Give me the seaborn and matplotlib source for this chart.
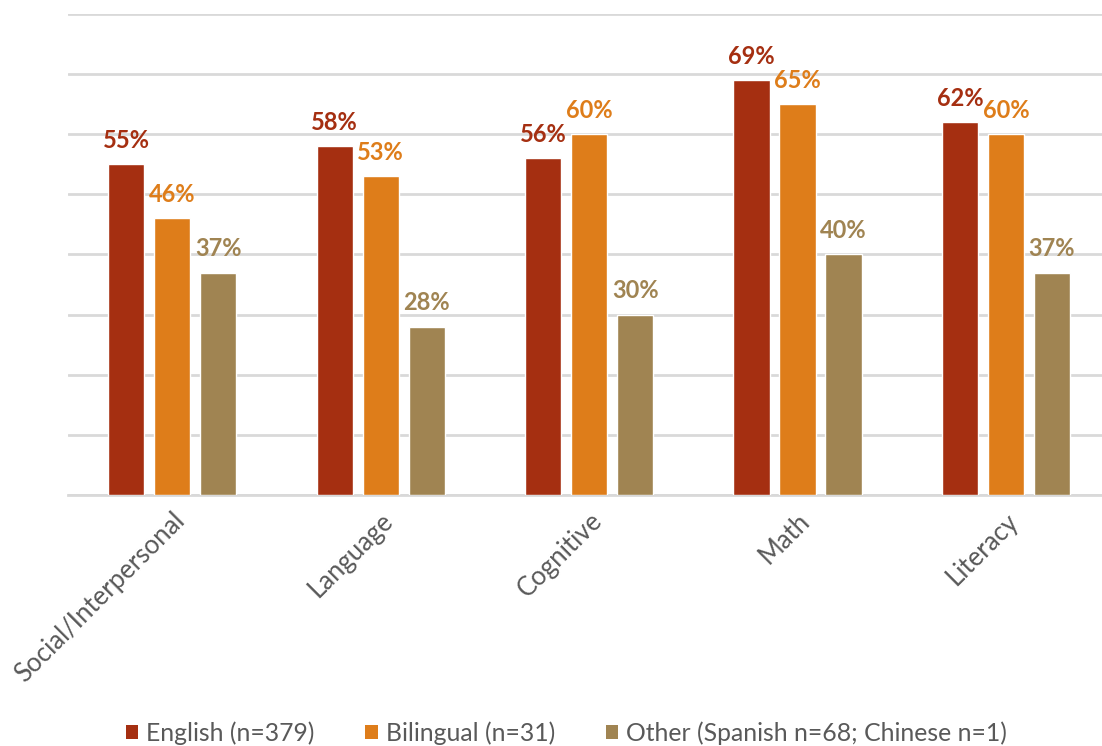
import matplotlib
matplotlib.use("Agg")
import matplotlib.pyplot as plt
import seaborn as sns
import pandas as pd
from matplotlib.patches import Patch

categories = ["Social/Interpersonal", "Language", "Cognitive", "Math", "Literacy"]
series = ["English (n=379)", "Bilingual (n=31)", "Other (Spanish n=68; Chinese n=1)"]
english = [55, 58, 56, 69, 62]
bilingual = [46, 53, 60, 65, 60]
other = [37, 28, 30, 40, 37]
colors = ["#A52F11", "#DE7D1A", "#A08452"]

rows = []
for name, vals in zip(series, [english, bilingual, other]):
    for cat, v in zip(categories, vals):
        rows.append({"category": cat, "group": name, "value": v})
df = pd.DataFrame(rows)

sns.set_style("white")
plt.rcParams["font.family"] = ["Lato", "DejaVu Sans"]

fig = plt.figure(figsize=(11.02, 7.46), dpi=100)
# plot area runs slightly past the right edge of the canvas
ax = fig.add_axes([0.0618, 0.3365, 0.9456, 0.6447])

sns.barplot(data=df, x="category", y="value", hue="group", order=categories,
            hue_order=series, palette=colors, width=0.662, gap=0.21,
            saturation=1, legend=False, ax=ax, zorder=3)

ax.set_ylim(0, 80)
ax.set_xlim(-0.5, len(categories) - 0.5)
ax.set_yticks(range(0, 81, 10))
ax.yaxis.grid(True, color="#D9D9D9", linewidth=2, zorder=0)
ax.tick_params(axis="y", left=False, labelleft=False)
ax.tick_params(axis="x", bottom=False, labelsize=18.5, labelcolor="#595959", pad=6)
for s in ["top", "right", "left"]:
    ax.spines[s].set_visible(False)
ax.spines["bottom"].set_color("#D9D9D9")
ax.spines["bottom"].set_linewidth(2)
ax.set_xlabel("")
ax.set_ylabel("")

for lbl in ax.get_xticklabels():
    lbl.set_rotation(45)
    lbl.set_ha("right")
    lbl.set_rotation_mode("anchor")

for container, col in zip(ax.containers, colors):
    for bar in container:
        h = bar.get_height()
        ax.annotate(f"{h:.0f}%", (bar.get_x() + bar.get_width() / 2, h),
                    xytext=(0, 9), textcoords="offset points",
                    ha="center", va="bottom", fontsize=17, fontweight="bold",
                    color=col)

handles = [Patch(facecolor=c, edgecolor="none") for c in colors]
fig.legend(handles, series, loc="center", bbox_to_anchor=(0.514, 0.0174),
           ncol=3, frameon=False, fontsize=17.8, labelcolor="#595959",
           handlelength=0.5, handleheight=0.5, handletextpad=0.32,
           columnspacing=2.05, borderaxespad=0, borderpad=0)

fig.savefig("out.png", dpi=100)
